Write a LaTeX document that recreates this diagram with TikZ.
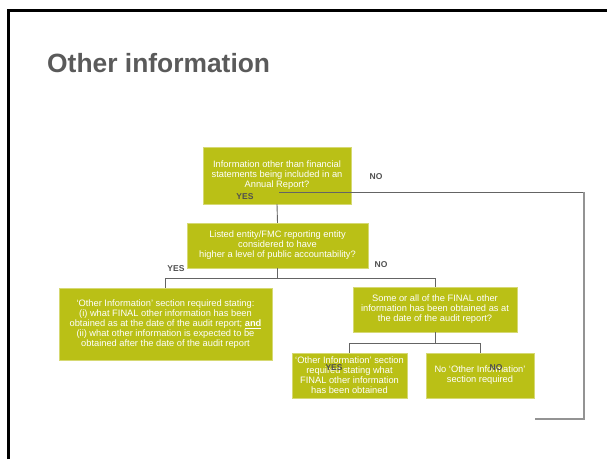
\documentclass[tikz,border=0pt]{standalone}
\usepackage{fontspec}
\setmainfont{Liberation Sans}
\definecolor{boxgreen}{RGB}{186,192,22}
\definecolor{titlegrey}{RGB}{90,90,90}
\definecolor{linegrey}{RGB}{100,100,100}
\begin{document}
\begin{tikzpicture}[
	x=1pt, y=-1pt,
	box/.style={ rectangle, fill=boxgreen, draw=boxgreen!60!white, thin, text=white, align=center, inner sep=1pt, font=\fontsize{9.3}{10}\selectfont },
	answer/.style={ text=linegrey!80!black, font=\fontsize{8.5}{9}\selectfont\bfseries, inner sep=0pt },
	link/.style={ linegrey, line width=0.9pt }
]
\useasboundingbox (0,0) rectangle (607,459);

% slide frame and title
\draw[line width=2.6pt] (8.5,459) -- (8.5,10.5) -- (607,10.5);
\node at (47,72) (title) [anchor=base west, inner sep=0pt, text=titlegrey, font=\fontsize{26.4}{30}\selectfont\bfseries] {Other information};

\node at (277,175.5) (q1) [box, minimum width=148pt, minimum height=57pt] {Information other than financial\\statements being included in an\\Annual Report?};
\node at (277.5,245.5) (q2) [box, minimum width=181pt, minimum height=45pt] {Listed entity/FMC reporting entity\\considered to have\\higher a level of public accountability?};
\node at (165.5,324) (a1) [box, minimum width=213pt, minimum height=72pt] {‘Other Information’ section required stating:\\(i) what FINAL other information has been\\obtained as at the date of the audit report; \underline{\textbf{and}}\\(ii) what other information is expected to be\\obtained after the date of the audit report};
\node at (435,309.5) (q3) [box, minimum width=164pt, minimum height=45pt] {Some or all of the FINAL other\\information has been obtained as at\\the date of the audit report?};
\node at (349.5,375.5) (a2) [box, minimum width=115pt, minimum height=45pt] {‘Other Information’ section\\required stating what\\FINAL other information\\has been obtained};
\node at (480,375.5) (a3) [box, minimum width=108pt, minimum height=45pt] {No ‘Other Information’\\section required};

% connectors
\draw[link] (q1.south) -- (q2.north);
\draw[link] (q2.south) -- ++(0,10) -| (a1.north);
\draw[link] (q2.south) -- ++(0,10) -| (q3.north);
\draw[link] (q3.south) -- ++(0,11) -| (a2.north);
\draw[link] (q3.south) -- ++(0,11) -| (a3.north);

\coordinate (nostart) at (279,192);
\coordinate (nocorner) at (584,192);
\coordinate (noend) at (535,419);
\draw[link] (nostart) -- (nocorner);
\draw[linegrey!70!white, line width=1.6pt] (nocorner) |- (noend);

% answers
\node at (245,197) (yes1) [answer] {YES};
\node at (376,177) (no1) [answer] {NO};
\node at (176,269) (yes2) [answer] {YES};
\node at (381,265) (no2) [answer] {NO};
\node at (334,368) (yes3) [answer] {YES};
\node at (496,368) (no3) [answer] {NO};

\end{tikzpicture}
\end{document}
